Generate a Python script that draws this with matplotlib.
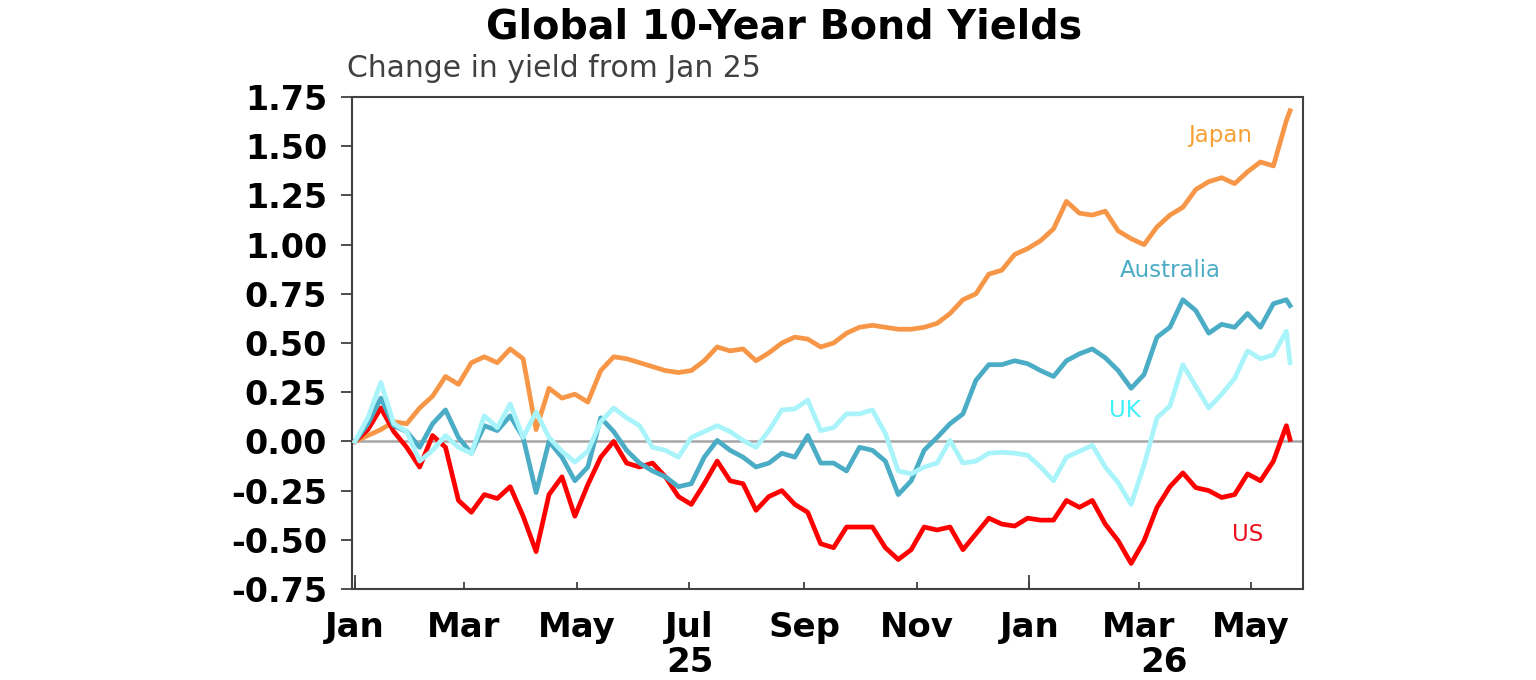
import numpy as np
import pandas as pd
import matplotlib
matplotlib.use("Agg")
import matplotlib.pyplot as plt
import matplotlib.dates as mdates
import matplotlib.transforms as mtransforms
from matplotlib.ticker import FormatStrFormatter

plt.rcParams['font.family'] = ['DejaVu Sans']
plt.rcParams['axes.unicode_minus'] = False

# weekly readings from 1 Jan 2025, last one a couple of days later
dates = list(pd.date_range('2025-01-01', periods=73, freq='7D')) + [pd.Timestamp('2026-05-22')]

japan = [0.00, 0.03, 0.06, 0.10, 0.09, 0.17, 0.23, 0.33, 0.29, 0.40,
         0.43, 0.40, 0.47, 0.42, 0.06, 0.27, 0.22, 0.24, 0.20, 0.36,
         0.43, 0.42, 0.40, 0.38, 0.36, 0.35, 0.36, 0.41, 0.48, 0.46,
         0.47, 0.41, 0.45, 0.50, 0.53, 0.52, 0.48, 0.50, 0.55, 0.58,
         0.59, 0.58, 0.57, 0.57, 0.58, 0.60, 0.65, 0.72, 0.75, 0.85,
         0.87, 0.95, 0.98, 1.02, 1.08, 1.22, 1.16, 1.15, 1.17, 1.07,
         1.03, 1.00, 1.09, 1.15, 1.19, 1.28, 1.32, 1.34, 1.31, 1.37,
         1.42, 1.40, 1.63, 1.68]

australia = [0.00, 0.09, 0.22, 0.08, 0.05, -0.03, 0.09, 0.16, 0.02, -0.06,
             0.08, 0.055, 0.13, 0.02, -0.26, 0.00, -0.08, -0.20, -0.13, 0.12,
             0.05, -0.045, -0.11, -0.15, -0.18, -0.23, -0.215, -0.08, 0.005, -0.045,
             -0.08, -0.13, -0.11, -0.06, -0.08, 0.03, -0.11, -0.11, -0.15, -0.03,
             -0.045, -0.10, -0.27, -0.20, -0.045, 0.02, 0.09, 0.14, 0.31, 0.39,
             0.39, 0.41, 0.395, 0.36, 0.33, 0.41, 0.445, 0.47, 0.425, 0.36,
             0.27, 0.34, 0.53, 0.58, 0.72, 0.665, 0.55, 0.595, 0.58, 0.65,
             0.58, 0.70, 0.72, 0.69]

uk = [0.00, 0.12, 0.30, 0.09, 0.05, -0.10, -0.045, 0.03, -0.03, -0.06,
      0.13, 0.07, 0.19, 0.02, 0.15, 0.02, -0.05, -0.105, -0.05, 0.10,
      0.17, 0.12, 0.08, -0.03, -0.045, -0.08, 0.02, 0.05, 0.08, 0.05,
      0.005, -0.03, 0.055, 0.16, 0.165, 0.21, 0.055, 0.07, 0.14, 0.14,
      0.16, 0.04, -0.15, -0.165, -0.13, -0.11, 0.005, -0.11, -0.10, -0.06,
      -0.055, -0.06, -0.07, -0.13, -0.20, -0.08, -0.05, -0.02, -0.13, -0.21,
      -0.32, -0.12, 0.12, 0.18, 0.39, 0.28, 0.17, 0.24, 0.32, 0.46,
      0.42, 0.44, 0.56, 0.40]

us = [0.00, 0.06, 0.17, 0.05, -0.03, -0.13, 0.03, -0.03, -0.30, -0.36,
      -0.27, -0.29, -0.23, -0.38, -0.56, -0.27, -0.18, -0.38, -0.22, -0.08,
      0.00, -0.11, -0.13, -0.11, -0.18, -0.28, -0.32, -0.215, -0.10, -0.20,
      -0.215, -0.35, -0.28, -0.25, -0.32, -0.36, -0.52, -0.54, -0.435, -0.435,
      -0.435, -0.54, -0.60, -0.55, -0.435, -0.45, -0.435, -0.55, -0.47, -0.39,
      -0.42, -0.43, -0.39, -0.40, -0.40, -0.30, -0.335, -0.30, -0.42, -0.505,
      -0.62, -0.505, -0.335, -0.23, -0.16, -0.235, -0.25, -0.285, -0.27, -0.165,
      -0.20, -0.10, 0.08, 0.01]

yticks = [-0.75, -0.5, -0.25, 0.0, 0.25, 0.5, 0.75, 1.0, 1.25, 1.5, 1.75]

fig = plt.figure(figsize=(15.36, 6.8), dpi=100)
ax = fig.add_axes([0.2292, 0.1338, 0.6191, 0.7235])

ax.axhline(0, color='#a6a6a6', lw=1.8, zorder=1)
ax.plot(dates, japan, color='#f79646', lw=3.4, zorder=3)
ax.plot(dates, us, color='#ff0000', lw=3.4, zorder=4)
ax.plot(dates, australia, color='#4bacc6', lw=3.4, zorder=5)
ax.plot(dates, uk, color='#a8f4fa', lw=3.4, zorder=6)

ax.set_ylim(-0.75, 1.75)
ax.set_xlim(pd.Timestamp('2024-12-30 10:00'), pd.Timestamp('2026-05-29'))
ax.set_yticks(yticks)
ax.yaxis.set_major_formatter(FormatStrFormatter('%.2f'))

ax.xaxis.set_major_locator(mdates.MonthLocator(bymonth=[1, 3, 5, 7, 9, 11]))
ax.xaxis.set_major_formatter(mdates.DateFormatter('%b'))
ax.xaxis.set_minor_locator(mdates.YearLocator())
ax.xaxis.remove_overlapping_locs = False

ax.tick_params(axis='y', direction='out', length=8, width=1.3, color='#404040',
               labelsize=24, pad=10)
ax.tick_params(axis='x', which='major', direction='in', length=5, width=1.3,
               color='#404040', labelsize=24.5, pad=16)
ax.tick_params(axis='x', which='minor', direction='in', length=10, width=1.3,
               color='#404040')
for lab in ax.get_xticklabels() + ax.get_yticklabels():
    lab.set_fontweight('bold')

for s in ax.spines.values():
    s.set_color('#404040')
    s.set_linewidth(1.5)

trans = mtransforms.blended_transform_factory(ax.transData, ax.transAxes)
ax.text(pd.Timestamp('2025-07-01'), -0.169, '25', transform=trans, ha='center',
        va='baseline', fontsize=24.5, fontweight='bold')
ax.text(pd.Timestamp('2026-03-15'), -0.169, '26', transform=trans, ha='center',
        va='baseline', fontsize=24.5, fontweight='bold')

ax.text(0.913, 0.921, 'Japan', transform=ax.transAxes, ha='center', va='center',
        fontsize=16.5, color='#f7a035')
ax.text(0.860, 0.648, 'Australia', transform=ax.transAxes, ha='center', va='center',
        fontsize=16.5, color='#4bacc6')
ax.text(0.813, 0.362, 'UK', transform=ax.transAxes, ha='center', va='center',
        fontsize=16.5, color='#40f0fa')
ax.text(0.942, 0.110, 'US', transform=ax.transAxes, ha='center', va='center',
        fontsize=16.5, color='#e8101e')

fig.text(0.5107, 0.944, 'Global 10-Year Bond Yields', ha='center', va='baseline',
         fontsize=28.5, fontweight='bold')
fig.text(0.226, 0.887, 'Change in yield from Jan 25', ha='left', va='baseline',
         fontsize=21.5, color='#404040')

fig.savefig('out.png', dpi=100, facecolor='white')
